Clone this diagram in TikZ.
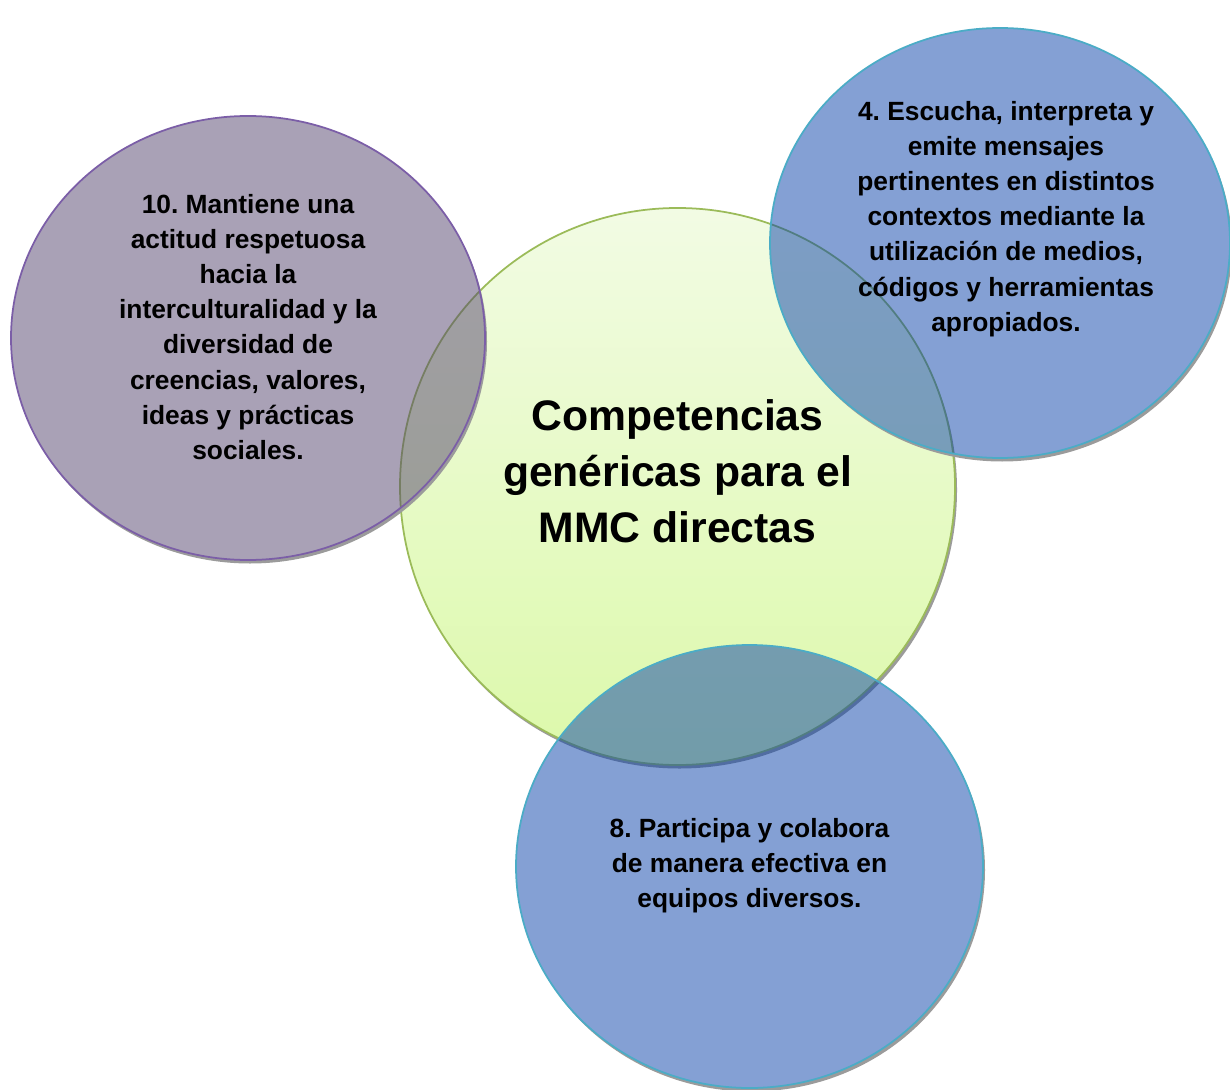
\documentclass[tikz,border=0pt]{standalone}
\usepackage{fontspec}
\setmainfont{Liberation Sans}
\frenchspacing
\definecolor{greenTop}{RGB}{242,251,228}
\definecolor{greenBot}{RGB}{220,249,170}
\definecolor{greenLine}{RGB}{155,187,89}
\definecolor{purpleBase}{RGB}{83,67,109}
\definecolor{purpleLine}{RGB}{123,94,167}
\definecolor{blueBase}{RGB}{9,65,169}
\definecolor{blueLine}{RGB}{75,172,198}
\definecolor{shadowGray}{RGB}{155,155,155}
\newcommand{\dropshadow}[3]{%
  \begin{scope}[even odd rule]
    \clip (-1,1) rectangle (26,-23) (#1) ellipse [x radius=#2, y radius=#3];
    \fill[shadowGray] ([shift={(0.04,-0.07)}]#1) ellipse [x radius=#2, y radius=#3];
  \end{scope}}
\tikzset{
  smalltext/.style={align=center, font=\bfseries\fontsize{15}{20}\selectfont, text=black, inner sep=0pt},
  bigtext/.style={align=center, font=\bfseries\fontsize{24.3}{31.9}\selectfont, text=black, inner sep=0pt},
  purplecirc/.style={fill=purpleBase, fill opacity=0.5, draw=purpleLine, line width=1pt},
  bluecirc/.style={fill=blueBase, fill opacity=0.5, draw=blueLine, line width=1pt},
  greencirc/.style={top color=greenTop, bottom color=greenBot, draw=greenLine, line width=1pt}
}
\begin{document}
\begin{tikzpicture}
\useasboundingbox (0,0) rectangle (24.6,-21.8);
\coordinate (cg) at (13.55,-9.73);
\coordinate (cp) at (4.96,-6.76);
\coordinate (cr) at (20.0,-4.86);
\coordinate (cb) at (14.99,-17.33);
% green central circle
\dropshadow{cg}{5.55cm}{5.57cm}
\path[greencirc] (cg) ellipse [x radius=5.55cm, y radius=5.57cm];
% purple circle
\dropshadow{cp}{4.74cm}{4.44cm}
\path[purplecirc] (cp) ellipse [x radius=4.74cm, y radius=4.44cm];
% top right blue circle
\dropshadow{cr}{4.6cm}{4.3cm}
\path[bluecirc] (cr) ellipse [x radius=4.6cm, y radius=4.3cm];
% bottom blue circle
\dropshadow{cb}{4.67cm}{4.43cm}
\path[bluecirc] (cb) ellipse [x radius=4.67cm, y radius=4.43cm];
% texts
\node[bigtext] (tg) at (13.55,-9.42) {Competencias\\genéricas para el\\MMC directas};
\node[smalltext] (tp) at (4.96,-6.54) {10. Mantiene una\\actitud respetuosa\\hacia la\\interculturalidad y la\\diversidad de\\creencias, valores,\\ideas y prácticas\\sociales.};
\node[smalltext] (tr) at (20.12,-4.38) {4. Escucha, interpreta y\\emite mensajes\\pertinentes en distintos\\contextos mediante la\\utilización de medios,\\códigos y herramientas\\apropiados.};
\node[smalltext] (tb) at (14.99,-17.32) {8. Participa y colabora\\de manera efectiva en\\equipos diversos.};
\end{tikzpicture}
\end{document}
